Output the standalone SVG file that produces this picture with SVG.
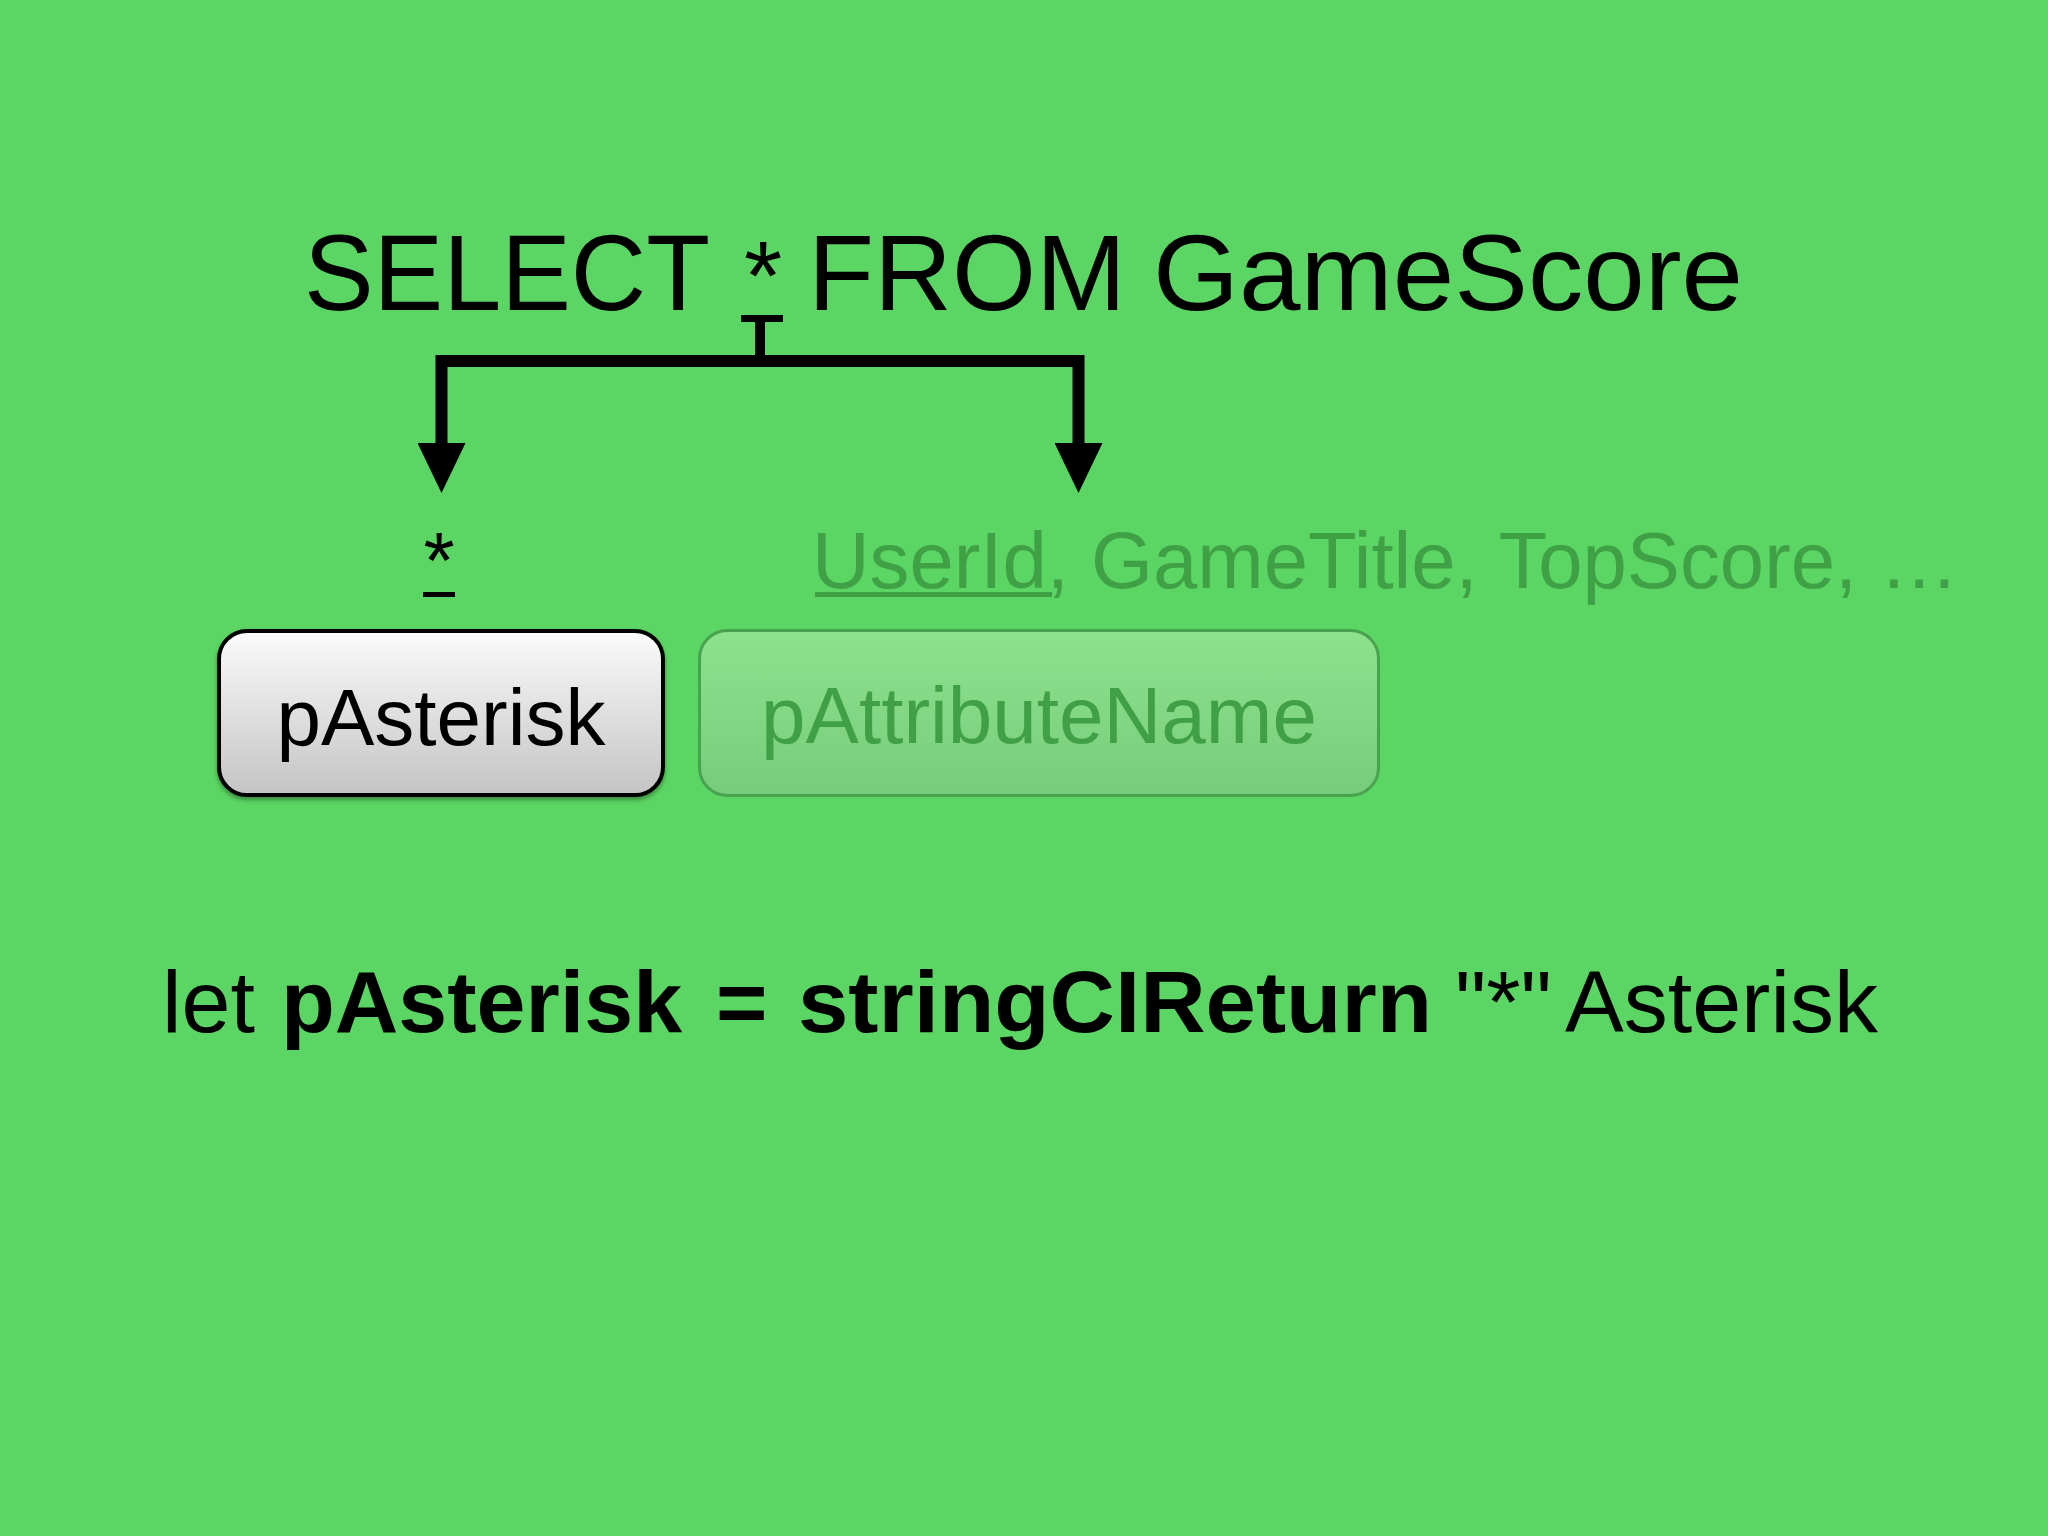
<svg xmlns="http://www.w3.org/2000/svg" width="2048" height="1536" viewBox="0 0 2048 1536">
  <style>
    .sans { font-family: "Liberation Sans", Arial, sans-serif; }
    .title { font-size: 108px; fill: #000; }
    .label { font-size: 80px; }
    .code { font-size: 88px; fill: #000; }
    .bold { font-weight: bold; }
    .faded { fill: #40a046; }
    .conn { fill: none; stroke: #000; stroke-linejoin: miter; stroke-linecap: butt; }
  </style>
  <defs>
    <linearGradient id="gWhite" x1="0" y1="0" x2="0" y2="1">
      <stop offset="0" stop-color="#fbfbfb"/>
      <stop offset="1" stop-color="#c4c4c6"/>
    </linearGradient>
    <linearGradient id="gGreen" x1="0" y1="0" x2="0" y2="1">
      <stop offset="0" stop-color="#8ee28e"/>
      <stop offset="1" stop-color="#77cc7b"/>
    </linearGradient>
    <filter id="shadow" x="-10%" y="-10%" width="120%" height="130%">
      <feDropShadow dx="0" dy="3" stdDeviation="2" flood-color="#000" flood-opacity="0.35"/>
    </filter>
    <marker id="arrow" viewBox="0 0 50 48" refX="0" refY="24" markerUnits="userSpaceOnUse" markerWidth="50" markerHeight="48" orient="auto-start-reverse">
      <path d="M0 0 L50 24 L0 48 Z" fill="#000"/>
    </marker>
  </defs>

  <rect x="0" y="0" width="2048" height="1536" fill="#5bd563"/>

  <g id="title">
    <text class="sans title" y="310"><tspan x="304" textLength="406" lengthAdjust="spacingAndGlyphs">SELECT</tspan><tspan x="744" font-size="98">*</tspan><tspan x="808" textLength="318" lengthAdjust="spacingAndGlyphs">FROM</tspan><tspan x="1153" textLength="590" lengthAdjust="spacingAndGlyphs">GameScore</tspan></text>
  </g>

  <g id="connectors">
    <rect x="741" y="315" width="42" height="7" fill="#000"/>
    <path class="conn" d="M760 320 V358" stroke-width="10"/>
    <path class="conn" d="M441.5 443 V361 H1078.5 V443" stroke-width="12" marker-start="url(#arrow)" marker-end="url(#arrow)"/>
  </g>

  <g id="asterisk-label">
    <text class="sans label" x="439" y="588" text-anchor="middle" fill="#000">*</text>
    <rect x="423" y="592" width="32" height="5" fill="#000"/>
  </g>

  <g id="attributes-label">
    <text class="sans label faded" x="812" y="588" textLength="1147" lengthAdjust="spacingAndGlyphs">UserId, GameTitle, TopScore, …</text>
    <rect x="815" y="592" width="237" height="5" class="faded"/>
  </g>

  <g id="pAsterisk">
    <rect x="219" y="631" width="444" height="164" rx="28" ry="28" fill="url(#gWhite)" stroke="#000" stroke-width="4" filter="url(#shadow)"/>
    <text class="sans label" x="441" y="745" text-anchor="middle" fill="#000">pAsterisk</text>
  </g>

  <g id="pAttributeName">
    <rect x="699.5" y="630.5" width="679" height="165" rx="28" ry="28" fill="url(#gGreen)" stroke="#49a34e" stroke-width="3"/>
    <text class="sans label faded" x="1039" y="743" text-anchor="middle">pAttributeName</text>
  </g>

  <g id="code">
    <text class="sans code" y="1032"><tspan x="162">let</tspan><tspan x="281" class="bold">pAsterisk</tspan><tspan x="716" class="bold">=</tspan><tspan x="798" class="bold" textLength="634" lengthAdjust="spacingAndGlyphs">stringCIReturn</tspan><tspan x="1455">"*"</tspan><tspan x="1565">Asterisk</tspan></text>
  </g>
</svg>
